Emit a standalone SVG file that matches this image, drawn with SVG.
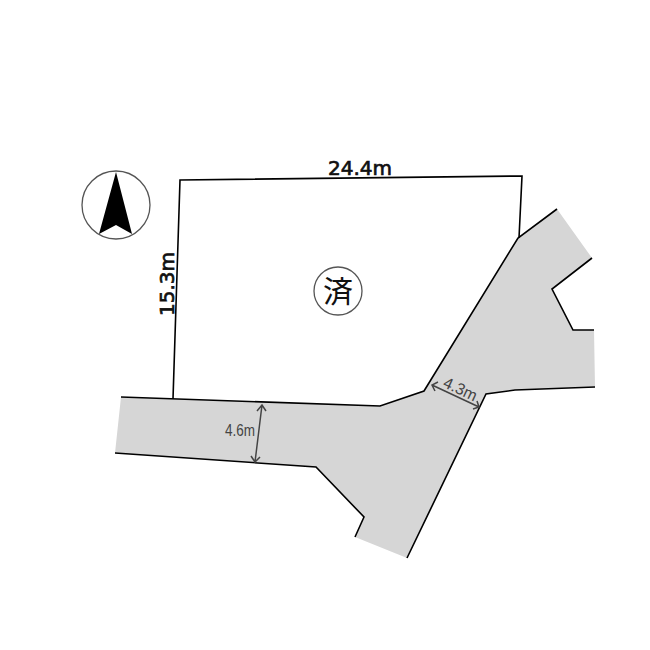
<svg xmlns="http://www.w3.org/2000/svg" width="650" height="650" viewBox="0 0 650 650">
<defs>
<style>
.ln{fill:none;stroke:#000;stroke-width:1.6;stroke-linejoin:miter}
.dim{fill:none;stroke:#444;stroke-width:1.5}
text{font-family:"DejaVu Sans","Noto Sans CJK JP",sans-serif}
.big{font-size:20px;font-weight:500;fill:#111;stroke:#111;stroke-width:.7}
.sm{font-family:"Liberation Sans",Arial,sans-serif;font-size:16px;fill:#444}
</style>
</defs>
<rect width="650" height="650" fill="#fff"/>
<g id="road">
<path fill="#d6d6d6" d="M121 397L380 406L424 391L518 238L557 209L592 258L552 289L573 330L594 330L595 387L515 390L486 394L407 558L355 537L364 517L316 467L115 453Z"/>
</g>
<g id="connectors">
<path class="ln" d="M173 399L180 180L522 176L519 238"/>
<path class="ln" d="M121 397L380 406L424 391L518 238L557 209"/>
<path class="ln" d="M592 258L552 289L573 330L594 330"/>
<path class="ln" d="M595 387L515 390L486 394L407 558"/>
<path class="ln" d="M355 537L364 517L316 467L115 453"/>
<path class="dim" d="M262 405L255 462M257 411L262 405L266 411M251 456L255 462L260 457"/>
<path class="dim" d="M432 385L479 407M438 382L432 385L435 391M473 409L479 407L477 401"/>
</g>
<g id="north">
<circle cx="116" cy="205" r="34" fill="#fff" stroke="#555" stroke-width="1.3"/>
<path d="M116 172L132 234L116 225L99 234Z" fill="#000"/>
</g>
<g id="sold-mark">
<circle cx="338" cy="291" r="24" fill="#fff" stroke="#555" stroke-width="1.3"/>
<text x="338" y="302" text-anchor="middle" font-size="30" fill="#111" style="font-family:'Noto Sans CJK JP',sans-serif">済</text>
</g>
<g id="labels">
<text class="big" x="360" y="175" text-anchor="middle">24.4m</text>
<text class="big" transform="translate(174 284) rotate(-90)" text-anchor="middle">15.3m</text>
<text class="sm" x="240" y="436" text-anchor="middle" textLength="30" lengthAdjust="spacingAndGlyphs">4.6m</text>
<text class="sm" transform="translate(458 394) rotate(25)" text-anchor="middle">4.3m</text>
</g>
</svg>
